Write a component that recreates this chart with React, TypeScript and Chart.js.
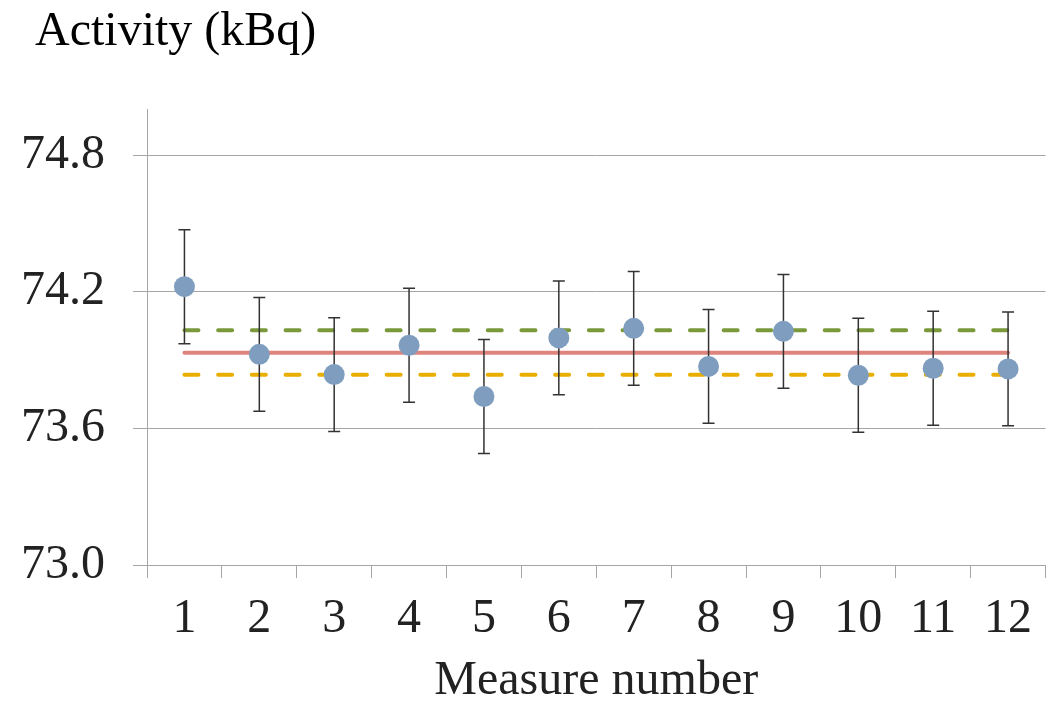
import React, { useEffect, useRef } from "react";
import { Chart, registerables } from "chart.js";

Chart.register(...registerables);

const MEASURES = ["1", "2", "3", "4", "5", "6", "7", "8", "9", "10", "11", "12"];
const ACTIVITY = [74.222, 73.925, 73.836, 73.965, 73.74, 73.997, 74.039, 73.872, 74.026, 73.833, 73.864, 73.861];
const ERRORS = [0.25, 0.25, 0.25, 0.25, 0.25, 0.25, 0.25, 0.25, 0.25, 0.25, 0.25, 0.25];
const MEAN_LEVEL = [73.932, 73.932, 73.932, 73.932, 73.932, 73.932, 73.932, 73.932, 73.932, 73.932, 73.932, 73.932];
const UPPER_LEVEL = [74.031, 74.031, 74.031, 74.031, 74.031, 74.031, 74.031, 74.031, 74.031, 74.031, 74.031, 74.031];
const LOWER_LEVEL = [73.835, 73.835, 73.835, 73.835, 73.835, 73.835, 73.835, 73.835, 73.835, 73.835, 73.835, 73.835];
const Y_TICKS = [73.0, 73.6, 74.2, 74.8];
const Y_MIN = 73.0;
const Y_MAX = 75.0;

const FONT = '"Liberation Serif", "Times New Roman", serif';

const errorBarPlugin = {
  id: "errorBars",
  beforeDatasetDraw(chart: any, args: any) {
    if (args.index !== 0) return;
    const ctx = chart.ctx;
    const meta = chart.getDatasetMeta(0);
    const y = chart.scales.y;
    ctx.save();
    ctx.strokeStyle = "#333333";
    ctx.lineWidth = 1.5;
    meta.data.forEach((pt: any, i: number) => {
      const x = pt.x;
      const top = y.getPixelForValue(ACTIVITY[i] + ERRORS[i]);
      const bot = y.getPixelForValue(ACTIVITY[i] - ERRORS[i]);
      ctx.beginPath();
      ctx.moveTo(x, top);
      ctx.lineTo(x, bot);
      ctx.moveTo(x - 6, top);
      ctx.lineTo(x + 6, top);
      ctx.moveTo(x - 6, bot);
      ctx.lineTo(x + 6, bot);
      ctx.stroke();
    });
    ctx.restore();
  },
};

const titlePlugin = {
  id: "yTitleTop",
  afterDraw(chart: any) {
    const ctx = chart.ctx;
    ctx.save();
    ctx.font = `48px ${FONT}`;
    ctx.fillStyle = "#000000";
    ctx.textAlign = "left";
    ctx.textBaseline = "alphabetic";
    ctx.fillText("Activity (kBq)", 35, 45);
    ctx.restore();
  },
};

export default function App() {
  const ref = useRef<HTMLCanvasElement | null>(null);

  useEffect(() => {
    if (!ref.current) return;
    const chart = new Chart(ref.current, {
      type: "line",
      data: {
        labels: MEASURES,
        datasets: [
          {
            label: "Activity",
            data: ACTIVITY,
            showLine: false,
            pointRadius: 10.5,
            pointBackgroundColor: "#7f9ebf",
            pointBorderColor: "#7f9ebf",
            pointBorderWidth: 0,
            backgroundColor: "#7f9ebf",
            borderColor: "#7f9ebf",
          },
          {
            label: "Upper",
            data: UPPER_LEVEL,
            borderColor: "#7a993b",
            borderWidth: 4,
            borderDash: [14, 19.7],
            borderCapStyle: "round",
            pointRadius: 0,
          },
          {
            label: "Mean",
            data: MEAN_LEVEL,
            borderColor: "#de847d",
            borderWidth: 4,
            borderCapStyle: "round",
            pointRadius: 0,
          },
          {
            label: "Lower",
            data: LOWER_LEVEL,
            borderColor: "#e9af00",
            borderWidth: 4,
            borderDash: [14, 19.7],
            borderCapStyle: "round",
            pointRadius: 0,
          },
        ],
      },
      options: {
        responsive: false,
        animation: false,
        layout: { padding: { left: 21, right: 4, top: 109.5, bottom: 0 } },
        plugins: {
          legend: { display: false },
          tooltip: { enabled: false },
          title: { display: false },
        },
        scales: {
          x: {
            type: "category",
            offset: true,
            afterFit: (scale: any) => {
              scale.height = 136;
            },
            grid: {
              offset: true,
              drawOnChartArea: false,
              drawTicks: true,
              tickLength: 13,
              color: "#a6a6a6",
              lineWidth: 1,
            },
            border: { color: "#a6a6a6", width: 1 },
            ticks: {
              color: "#222222",
              padding: 17.5,
              font: { family: FONT, size: 48, lineHeight: 1 },
              maxRotation: 0,
              autoSkip: false,
            },
            title: {
              display: true,
              text: "Measure number",
              color: "#222222",
              font: { family: FONT, size: 48, lineHeight: 0.8 },
              padding: { top: 19, bottom: 0 },
            },
          },
          y: {
            min: Y_MIN,
            max: Y_MAX,
            afterFit: (scale: any) => {
              scale.width = 126;
            },
            afterBuildTicks: (scale: any) => {
              scale.ticks = Y_TICKS.map((v) => ({ value: v }));
            },
            grid: {
              drawTicks: true,
              tickLength: 14,
              color: "#a6a6a6",
              lineWidth: 1,
            },
            border: { color: "#a6a6a6", width: 1 },
            ticks: {
              color: "#222222",
              padding: 28,
              font: { family: FONT, size: 48, lineHeight: 1 },
              callback: (v: any) => Number(v).toFixed(1),
            },
          },
        },
      },
      plugins: [errorBarPlugin, titlePlugin],
    } as any);
    return () => chart.destroy();
  }, []);

  return (
    <div style={{ position: "fixed", left: 0, top: 0, width: 1056, height: 701, background: "#ffffff" }}>
      <canvas ref={ref} width={1056} height={701} style={{ display: "block" }} />
    </div>
  );
}
